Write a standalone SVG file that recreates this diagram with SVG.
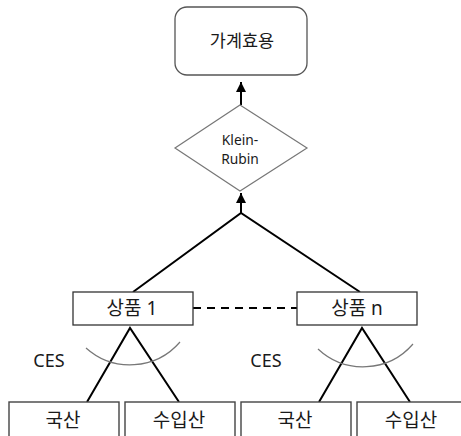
<svg xmlns="http://www.w3.org/2000/svg" width="461" height="436" viewBox="0 0 461 436">
<style>
text{font-family:"Noto Sans","Noto Sans CJK KR",sans-serif;fill:#1a1a1a;text-anchor:middle}
.box{fill:#fff;stroke:#333;stroke-width:1.3}
.leaf{fill:#fff;stroke:#444;stroke-width:1.4}
.conn{stroke:#000;stroke-width:2;fill:none}
.arc{stroke:#777;stroke-width:1.2;fill:none}
.k{font-size:19px}
.ces{font-size:18px}
.kr{font-size:13.8px}
</style>
<defs>
<marker id="ah" viewBox="0 0 10 12" refX="10" refY="6" markerWidth="10" markerHeight="12" markerUnits="userSpaceOnUse" orient="auto">
<path d="M0,1 L10,6 L0,11 Z" fill="#000"/>
</marker>
</defs>
<g id="connectors">
<line class="conn" x1="241" y1="105" x2="241" y2="82" marker-end="url(#ah)"/>
<line class="conn" x1="241" y1="213" x2="241" y2="193" marker-end="url(#ah)"/>
<polyline class="conn" points="133,292 241,213 360,292"/>
<line class="conn" x1="193" y1="308" x2="297" y2="308" stroke-dasharray="8,6"/>
<polyline class="conn" points="87,402 130,328 179,402"/>
<polyline class="conn" points="319,402 362,328 410,402"/>
<path class="arc" d="M86,348 A66,66 0 0 0 180,342"/>
<path class="arc" d="M318,349 A66,66 0 0 0 413,344"/>
</g>
<g id="household">
<rect x="175" y="7" width="132" height="68" rx="12" ry="12" fill="#fff" stroke="#555" stroke-width="1.3"/>
<text x="242" y="47" font-size="17.5">가계효용</text>
</g>
<g id="klein-rubin">
<polygon points="240,105 307,148 240,191 175,148" fill="#fff" stroke="#777" stroke-width="1.2"/>
<text class="kr" x="240" y="145">Klein-</text>
<text class="kr" x="240" y="164">Rubin</text>
</g>
<g id="good1">
<rect class="box" x="73" y="292" width="120" height="33"/>
<text class="k" x="132" y="315">상품 1</text>
</g>
<g id="goodn">
<rect class="box" x="297" y="292" width="120" height="33"/>
<text class="k" x="357" y="315">상품 n</text>
</g>
<g id="ces-labels">
<text class="ces" x="49" y="367">CES</text>
<text class="ces" x="266" y="367">CES</text>
</g>
<g id="domestic1">
<rect class="leaf" x="9" y="402" width="110" height="40"/>
<text class="k" x="63" y="427">국산</text>
</g>
<g id="import1">
<rect class="leaf" x="125" y="402" width="110" height="40"/>
<text class="k" x="179" y="427">수입산</text>
</g>
<g id="domestic2">
<rect class="leaf" x="241" y="402" width="110" height="40"/>
<text class="k" x="295" y="427">국산</text>
</g>
<g id="import2">
<rect class="leaf" x="357" y="402" width="110" height="40"/>
<text class="k" x="411" y="427">수입산</text>
</g>
</svg>
